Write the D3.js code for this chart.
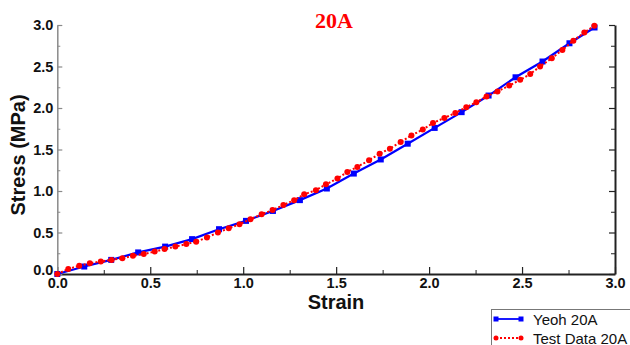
<!DOCTYPE html>
<html>
<head>
<meta charset="utf-8">
<script src="https://cdn.jsdelivr.net/npm/d3@7"></script>
<style>
  body { margin: 0; background: #fff; }
  svg { display: block; }
  .tick text { font-family: Arial, "Liberation Sans", sans-serif; font-weight: bold; font-size: 14.5px; fill: #111; }
</style>
</head>
<body>
<svg id="chart" width="630" height="345"></svg>
<script>
// Yeoh 20A fit (blue squares)
const yeohStrain = [0, 0.145, 0.29, 0.435, 0.58, 0.725, 0.87, 1.015, 1.16, 1.305, 1.45,
  1.595, 1.74, 1.885, 2.03, 2.175, 2.32, 2.465, 2.61, 2.755, 2.89]
const yeohStress = [0, 0.09, 0.17, 0.26, 0.33, 0.42, 0.54, 0.64, 0.76, 0.89, 1.03,
  1.21, 1.38, 1.57, 1.76, 1.95, 2.15, 2.37, 2.56, 2.78, 2.97]

// Test Data 20A (red dots)
const testStrain = [0, 0.059, 0.118, 0.175, 0.234, 0.292, 0.35, 0.407, 0.465, 0.524,
  0.577, 0.635, 0.694, 0.747, 0.805, 0.864, 0.922, 0.98, 1.039, 1.099,
  1.158, 1.216, 1.274, 1.328, 1.391, 1.445, 1.507, 1.56, 1.614, 1.677,
  1.734, 1.789, 1.847, 1.905, 1.966, 2.021, 2.082, 2.141, 2.2, 2.254,
  2.309, 2.368, 2.431, 2.49, 2.544, 2.597, 2.66, 2.717, 2.776, 2.835, 2.889]
const testStress = [0, 0.06, 0.1, 0.13, 0.15, 0.17, 0.19, 0.22, 0.24, 0.27,
  0.3, 0.33, 0.36, 0.39, 0.44, 0.5, 0.55, 0.6, 0.66, 0.72,
  0.77, 0.83, 0.89, 0.96, 1.01, 1.08, 1.15, 1.23, 1.29, 1.37,
  1.45, 1.51, 1.59, 1.67, 1.74, 1.82, 1.88, 1.94, 2.01, 2.07,
  2.14, 2.2, 2.27, 2.34, 2.41, 2.5, 2.6, 2.7, 2.81, 2.91, 2.99]

const majorTicks = [0, 0.5, 1.0, 1.5, 2.0, 2.5, 3.0]
const minorTicks = [0.25, 0.75, 1.25, 1.75, 2.25, 2.75]

const chartTitle = '20A'
const xTitle = 'Strain'
const yTitle = 'Stress (MPa)'
const seriesNames = ['Yeoh 20A', 'Test Data 20A']

const svg = d3.select('#chart')

const x = d3.scaleLinear().domain([0, 3]).range([57.3, 615])
const y = d3.scaleLinear().domain([0, 3]).range([274, 25])

const yeoh = yeohStrain.map((s, i) => ({ x: s, y: yeohStress[i] }))
const test = testStrain.map((s, i) => ({ x: s, y: testStress[i] }))

// axes
function styleAxis (g, color, width) {
  g.select('.domain').attr('stroke', color).attr('stroke-width', width)
  g.selectAll('.tick line').attr('stroke', color).attr('stroke-width', 1.2)
}

const fmt = d3.format('.1f')

const gx = svg.append('g').attr('transform', `translate(0,${y(0)})`)
  .call(d3.axisBottom(x).tickValues(majorTicks).tickSize(-7).tickSizeOuter(0).tickPadding(4).tickFormat(fmt))
styleAxis(gx, '#222', 2)
gx.selectAll('.tick text').attr('dy', '0.72em')
svg.append('g').attr('transform', `translate(0,${y(0)})`)
  .call(d3.axisBottom(x).tickValues(minorTicks).tickSize(-4).tickSizeOuter(0).tickFormat(''))
  .call(g => { g.select('.domain').remove(); g.selectAll('line').attr('stroke', '#222') })

const gy = svg.append('g').attr('transform', `translate(${x(0)},0)`)
  .call(d3.axisLeft(y).tickValues(majorTicks).tickSize(-5).tickSizeOuter(0).tickPadding(4).tickFormat(fmt))
styleAxis(gy, '#8a8a8a', 1.5)
// the origin label sits a little higher so it clears the x-axis 0.0
gy.selectAll('.tick text').filter(d => d === 0).attr('dy', '0.05em')
svg.append('g').attr('transform', `translate(${x(0)},0)`)
  .call(d3.axisLeft(y).tickValues(minorTicks).tickSize(-3).tickSizeOuter(0).tickFormat(''))
  .call(g => { g.select('.domain').remove(); g.selectAll('line').attr('stroke', '#8a8a8a') })

const gr = svg.append('g').attr('transform', `translate(${x(3)},0)`)
  .call(d3.axisRight(y).tickValues(majorTicks).tickSize(-6).tickSizeOuter(0).tickFormat(''))
styleAxis(gr, '#222', 2)
svg.append('g').attr('transform', `translate(${x(3)},0)`)
  .call(d3.axisRight(y).tickValues(minorTicks).tickSize(-4).tickSizeOuter(0).tickFormat(''))
  .call(g => { g.select('.domain').remove(); g.selectAll('line').attr('stroke', '#222') })

// series
const line = d3.line().x(d => x(d.x)).y(d => y(d.y))

svg.append('path')
  .attr('d', line(yeoh))
  .attr('fill', 'none')
  .attr('stroke', '#0000ff')
  .attr('stroke-width', 2.2)

svg.append('g').selectAll('rect').data(yeoh)
  .enter().append('rect')
  .attr('x', d => x(d.x) - 3)
  .attr('y', d => y(d.y) - 3)
  .attr('width', 6)
  .attr('height', 6)
  .attr('fill', '#0000ff')

svg.append('path')
  .attr('d', line(test))
  .attr('fill', 'none')
  .attr('stroke', '#ff0000')
  .attr('stroke-width', 2)
  .attr('stroke-dasharray', '2,2')

svg.append('g').selectAll('circle').data(test)
  .enter().append('circle')
  .attr('cx', d => x(d.x))
  .attr('cy', d => y(d.y))
  .attr('r', 3)
  .attr('fill', '#ff0000')

// titles
svg.append('text')
  .attr('x', 334)
  .attr('y', 28)
  .attr('text-anchor', 'middle')
  .attr('font-family', '"Liberation Serif", "Times New Roman", serif')
  .attr('font-weight', 'bold')
  .attr('font-size', 22)
  .attr('fill', '#ff0000')
  .text(chartTitle)

svg.append('text')
  .attr('x', 336)
  .attr('y', 309)
  .attr('text-anchor', 'middle')
  .attr('font-family', 'Arial, "Liberation Sans", sans-serif')
  .attr('font-weight', 'bold')
  .attr('font-size', 20)
  .attr('fill', '#111')
  .text(xTitle)

svg.append('text')
  .attr('transform', 'translate(25,155) rotate(-90)')
  .attr('text-anchor', 'middle')
  .attr('font-family', 'Arial, "Liberation Sans", sans-serif')
  .attr('font-weight', 'bold')
  .attr('font-size', 20)
  .attr('fill', '#111')
  .text(yTitle)

// legend
const legend = svg.append('g')
legend.append('rect')
  .attr('x', 491.5)
  .attr('y', 309.5)
  .attr('width', 150)
  .attr('height', 50)
  .attr('fill', '#fff')
  .attr('stroke', '#777')
  .attr('stroke-width', 1)

const legendRows = [
  { name: seriesNames[0], color: '#0000ff', dash: null, shape: 'rect', ly: 319 },
  { name: seriesNames[1], color: '#ff0000', dash: '2,2', shape: 'circle', ly: 338 }
]
legendRows.forEach(r => {
  legend.append('line')
    .attr('x1', 496).attr('x2', 521)
    .attr('y1', r.ly).attr('y2', r.ly)
    .attr('stroke', r.color)
    .attr('stroke-width', 1.8)
    .attr('stroke-dasharray', r.dash)
  ;[496, 521].forEach(px => {
    if (r.shape === 'rect') {
      legend.append('rect').attr('x', px - 2.5).attr('y', r.ly - 2.5)
        .attr('width', 5).attr('height', 5).attr('fill', r.color)
    } else {
      legend.append('circle').attr('cx', px).attr('cy', r.ly).attr('r', 2.5).attr('fill', r.color)
    }
  })
  legend.append('text')
    .attr('x', 533)
    .attr('y', r.ly + 5.5)
    .attr('font-family', 'Arial, "Liberation Sans", sans-serif')
    .attr('font-size', 15)
    .attr('fill', '#111')
    .text(r.name)
})
</script>
</body>
</html>
